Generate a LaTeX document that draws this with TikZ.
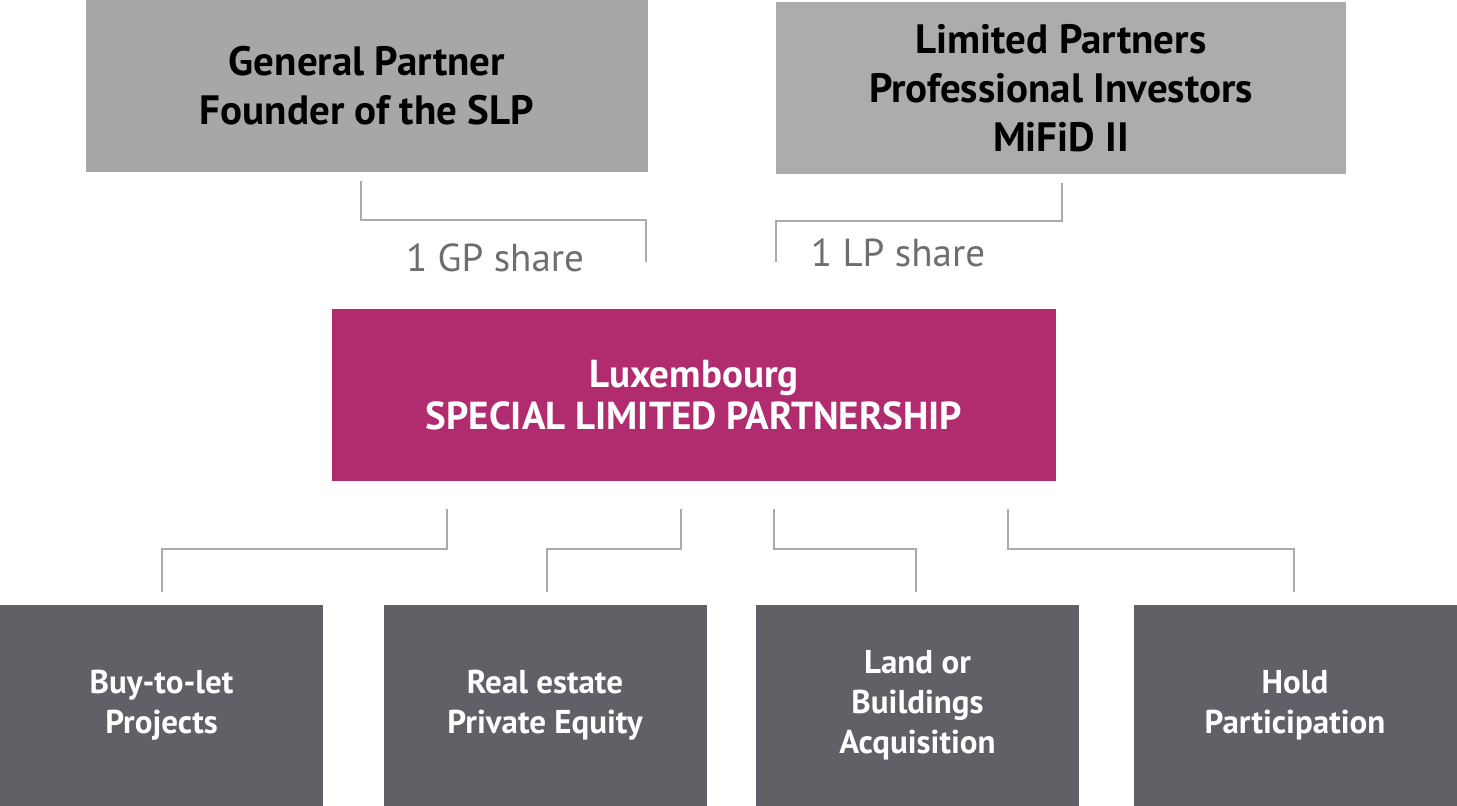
\documentclass[tikz,border=0pt]{standalone}
\usepackage{fontspec}
\setmainfont{PT Sans}
\usetikzlibrary{positioning}

\definecolor{gpgrey}{HTML}{A7A7A7}
\definecolor{lpgrey}{HTML}{ABACAE}
\definecolor{slpred}{HTML}{B12B6F}
\definecolor{assetgrey}{HTML}{5F6166}
\definecolor{linkgrey}{HTML}{ABABAB}
\definecolor{sharegrey}{HTML}{6D6E71}

\tikzset{
  partnerbox/.style={rectangle, inner sep=0pt, align=center, text=black,
    font=\fontsize{20.5}{24.5}\selectfont\bfseries},
  slpbox/.style={rectangle, fill=slpred, inner sep=0pt, align=center, text=white,
    minimum width=362pt, minimum height=86pt,
    font=\fontsize{19.5}{21}\selectfont\bfseries},
  assetbox/.style={rectangle, fill=assetgrey, inner sep=0pt, align=center, text=white,
    minimum width=161.5pt, minimum height=100.5pt,
    font=\fontsize{16.5}{20}\selectfont\bfseries},
  sharelabel/.style={text=sharegrey, font=\fontsize{19.5}{20}\selectfont},
  link/.style={draw=linkgrey, line width=1pt}
}

\begin{document}
\begin{tikzpicture}
  \useasboundingbox (0pt,0pt) rectangle (728.5pt,-403pt);

  % partners
  \node[partnerbox, fill=gpgrey, minimum width=281pt, minimum height=86pt] (gp) at (183.5pt,-43pt)
    {General Partner\\Founder of the SLP};
  \node[partnerbox, fill=lpgrey, minimum width=285pt, minimum height=86pt] (lp) at (530.5pt,-44pt)
    {Limited Partners\\Professional Investors\\MiFiD II};

  % the partnership
  \node[slpbox] (slp) at (347pt,-197.5pt) {Luxembourg\\SPECIAL LIMITED PARTNERSHIP};

  % shares
  \node[sharelabel] (gpshare) at (247.5pt,-129pt) {1 GP share};
  \node[sharelabel] (lpshare) at (449pt,-126.5pt) {1 LP share};

  % assets
  \node[assetbox] (buy) at (80.75pt,-352.75pt) {Buy-to-let\\Projects};
  \node[assetbox] (realestate) at (272.5pt,-352.75pt) {Real estate\\Private Equity};
  \node[assetbox] (land) at (458.75pt,-352.75pt) {Land or\\Buildings\\Acquisition};
  \node[assetbox] (hold) at (647.5pt,-352.75pt) {Hold\\Participation};

  % connectors
  \draw[link] ([xshift=-3pt,yshift=-4.5pt]gp.south) -- ++(0,-19.5pt)
    -| ([xshift=-24pt,yshift=23.5pt]slp.north);
  \draw[link] ([xshift=0.5pt,yshift=-4.5pt]lp.south) -- ++(0,-19pt)
    -| ([xshift=41pt,yshift=23.5pt]slp.north);

  \draw[link] ([xshift=-123.5pt,yshift=-14pt]slp.south) -- ++(0,-20pt)
    -| ([yshift=6.5pt]buy.north);
  \draw[link] ([xshift=-6.5pt,yshift=-14pt]slp.south) -- ++(0,-20pt)
    -| ([xshift=1pt,yshift=6.5pt]realestate.north);
  \draw[link] ([xshift=40pt,yshift=-14pt]slp.south) -- ++(0,-20pt)
    -| ([xshift=-0.75pt,yshift=6.5pt]land.north);
  \draw[link] ([xshift=157pt,yshift=-14pt]slp.south) -- ++(0,-20pt)
    -| ([xshift=-0.5pt,yshift=6.5pt]hold.north);
\end{tikzpicture}
\end{document}
